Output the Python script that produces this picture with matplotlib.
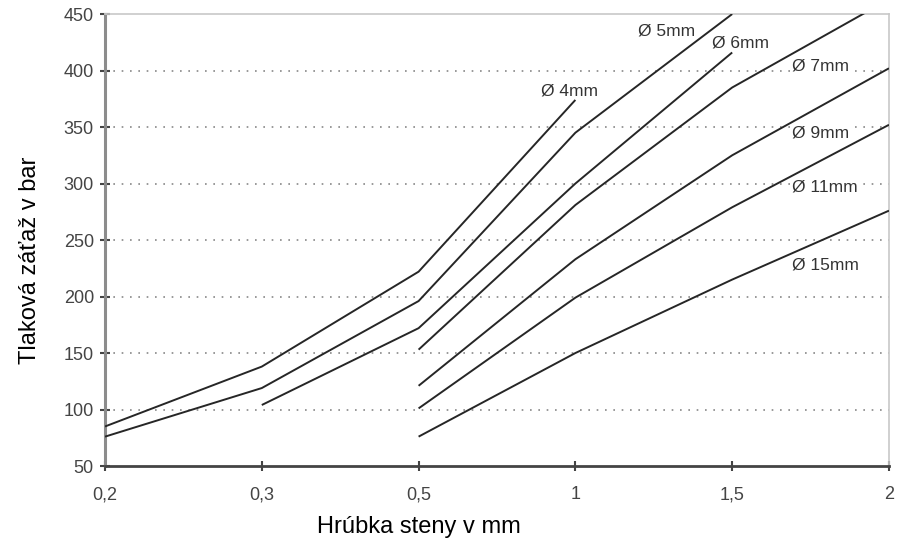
import numpy as np
import matplotlib
matplotlib.use("Agg")
import matplotlib.pyplot as plt

plt.rcParams['font.family'] = ['Liberation Sans', 'DejaVu Sans']

thickness = ["0,2", "0,3", "0,5", "1", "1,5", "2"]
nan = np.nan
d4 = [85, 138, 222, 374, nan, nan]
d5 = [76, 119, 196, 345, 450, nan]
d6 = [nan, 104, 172, 300, 416, nan]
d7 = [nan, nan, 153, 281, 385, 463]
d9 = [nan, nan, 121, 233, 325, 402]
d11 = [nan, nan, 101, 199, 279, 352]
d15 = [nan, nan, 76, 150, 215, 276]
series = [d4, d5, d6, d7, d9, d11, d15]
labels = ["Ø 4mm", "Ø 5mm", "Ø 6mm", "Ø 7mm", "Ø 9mm", "Ø 11mm", "Ø 15mm"]
# label anchor (x index, y value)
label_pos = [(2.78, 382), (3.40, 435), (3.87, 424), (4.38, 404),
             (4.38, 345), (4.38, 297), (4.38, 228)]

fig = plt.figure(figsize=(9.06, 5.41), dpi=100)
ax = fig.add_axes([0.1159, 0.1386, 0.8653, 0.8354])

x = np.arange(len(thickness))
for s in series:
    ax.plot(x, s, color='#262626', lw=1.4, solid_capstyle='butt', zorder=3)

for lab, (lx, ly) in zip(labels, label_pos):
    ax.text(lx, ly, lab, fontsize=12.5, color='#333333', va='center', ha='left',
            zorder=2, bbox=dict(facecolor='white', edgecolor='none', pad=0.3))

ax.set_xlim(0, 5)
ax.set_ylim(50, 450)
ax.set_xticks(x)
ax.set_xticklabels(thickness)
ax.set_yticks(range(50, 451, 50))
for v in range(100, 401, 50):
    ax.axhline(v, color='#888888', lw=1.2, ls=(0, (1, 4)), zorder=0)

for side in ['top', 'right']:
    ax.spines[side].set_color('#c8c8c8')
    ax.spines[side].set_linewidth(1.2)
ax.spines['left'].set_color('#8c8c8c')
ax.spines['left'].set_linewidth(2.2)
ax.spines['bottom'].set_color('#444444')
ax.spines['bottom'].set_linewidth(2.0)

ax.tick_params(axis='both', direction='inout', length=7, width=1.5,
               colors='#444444', labelsize=13)
ax.tick_params(axis='x', pad=11)
ax.tick_params(axis='y', pad=4.5)

ax.set_xlabel("Hrúbka steny v mm", fontsize=17, color='black', x=0.40, labelpad=9)
ax.set_ylabel("Tlaková záťaž v bar", fontsize=17, color='black', y=0.456, labelpad=16)

fig.savefig("out.png", dpi=100)
